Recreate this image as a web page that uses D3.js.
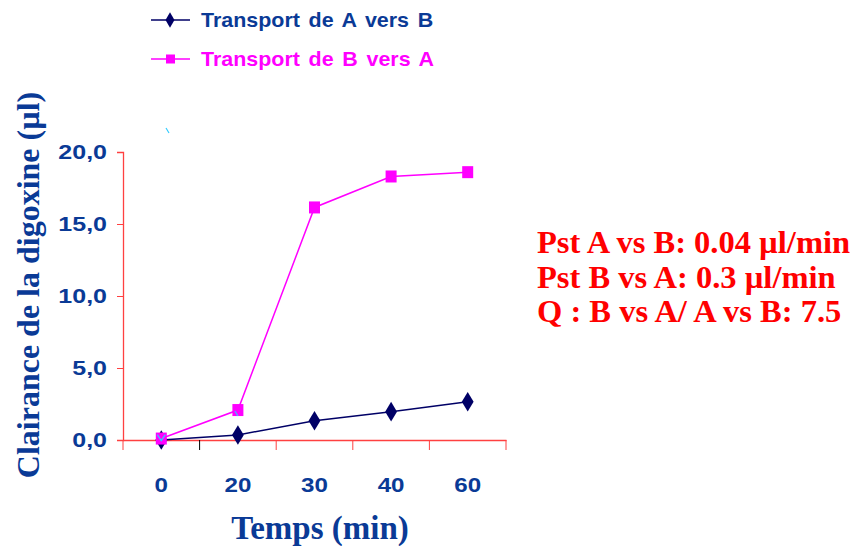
<!DOCTYPE html>
<html><head><meta charset="utf-8">
<script src="https://cdn.jsdelivr.net/npm/d3@7/dist/d3.min.js"></script>
<style>body{margin:0;background:#fff}svg{display:block}</style>
</head><body>
<svg id="c" width="858" height="546"></svg>
<script>
const categories = ["0", "20", "30", "40", "60"];
const seriesAB = [0.0, 0.35, 1.34, 1.97, 2.66];
const seriesBA = [0.1, 2.08, 16.15, 18.3, 18.6];
const yTicks = [0, 5, 10, 15, 20];
const seriesNames = ["Transport de A vers B", "Transport de B vers A"];
const notes = ["Pst A vs B: 0.04 µl/min", "Pst B vs A: 0.3 µl/min", "Q : B vs A/ A vs B: 7.5"];

const svg = d3.select("#c");
const blue = "#0a3a96", navy = "#000066", mag = "#ff00ff", axisRed = "#ff4040";
const sans = "Arial, 'Liberation Sans', sans-serif";
const serif = "'Times New Roman', 'Liberation Serif', serif";
const x = d3.scaleBand().domain(categories).range([123, 506]);
const y = d3.scaleLinear().domain([0, 20]).range([440, 152]);

// y axis
const ya = svg.append("g").attr("transform", "translate(123,0)")
  .call(d3.axisLeft(y).tickValues(yTicks).tickSize(6).tickFormat(d => d3.format(".1f")(d).replace(".", ",")));
ya.select(".domain").attr("stroke", axisRed).attr("stroke-width", 1.3);
ya.selectAll(".tick line").attr("stroke", axisRed);
ya.selectAll(".tick text").attr("fill", blue).attr("font-family", sans)
  .attr("font-weight", "bold").attr("font-size", 20).attr("x", 0)
  .attr("transform", "translate(-16,0) scale(1.25,1)");

// x axis
const xa = svg.append("g").attr("transform", "translate(0,440)")
  .call(d3.axisBottom(x).tickSize(0));
xa.select(".domain").attr("stroke", axisRed).attr("stroke-width", 1.3);
xa.selectAll(".tick text").attr("fill", blue).attr("font-family", sans)
  .attr("font-weight", "bold").attr("font-size", 21).attr("y", 0)
  .attr("transform", "translate(0,37) scale(1.15,1)");
// x tick marks at band boundaries
const bounds = categories.map(c => x(c)).concat([x.range()[1]]);
svg.append("g").selectAll("line").data(bounds).join("line")
  .attr("x1", d => d).attr("x2", d => d).attr("y1", 440).attr("y2", 450)
  .attr("stroke", (d, i) => i === 1 ? "#000" : axisRed);

const cx = c => x(c) + x.bandwidth() / 2;
const line = d3.line().x((d, i) => cx(categories[i])).y(d => y(d));

// B vers A
svg.append("path").datum(seriesBA).attr("d", line).attr("fill", "none").attr("stroke", mag).attr("stroke-width", 1.5);
// A vers B
svg.append("path").datum(seriesAB).attr("d", line).attr("fill", "none").attr("stroke", navy).attr("stroke-width", 1.5);

const diamond = d3.symbol().type(d3.symbolDiamond).size(110);
svg.append("g").selectAll("path").data(seriesAB).join("path")
  .attr("d", diamond).attr("fill", navy)
  .attr("transform", (d, i) => `translate(${cx(categories[i])},${y(d)}) scale(1.05,1)`);
svg.append("g").selectAll("rect").data(seriesBA).join("rect")
  .attr("x", (d, i) => cx(categories[i]) - 5.5).attr("y", d => y(d) - 6)
  .attr("width", 11).attr("height", 12).attr("fill", mag);
// small cyan artifacts
svg.append("path").attr("d", `M${cx("0")-4},${y(0.1)-4}L${cx("0")},${y(0.1)+2}L${cx("0")+4},${y(0.1)-4}`)
  .attr("fill", "none").attr("stroke", "#33ccff").attr("stroke-width", 1.2);
svg.append("path").attr("d", `M${cx("20")-3},${y(2.08)+1}L${cx("20")},${y(2.08)+6}`)
  .attr("fill", "none").attr("stroke", "#33ccff").attr("stroke-width", 1.2);
svg.append("path").attr("d", "M166,128L169,133").attr("stroke", "#33ccff").attr("stroke-width", 1.2);

// legend
const leg = svg.append("g");
const legColors = [navy, mag], legText = [blue, mag];
seriesNames.forEach((n, i) => {
  const ly = 20 + i * 39;
  leg.append("line").attr("x1", 151).attr("x2", 190).attr("y1", ly).attr("y2", ly).attr("stroke", legColors[i]).attr("stroke-width", 1.5);
  if (i === 0) leg.append("path").attr("d", d3.symbol().type(d3.symbolDiamond).size(70)).attr("fill", navy).attr("transform", `translate(170,${ly})`);
  else leg.append("rect").attr("x", 166).attr("y", ly - 4.5).attr("width", 9).attr("height", 9).attr("fill", mag);
  leg.append("text").attr("transform", `translate(201,${ly + 7}) scale(1.1,1)`).text(n).attr("fill", legText[i])
    .attr("font-family", sans).attr("font-weight", "bold").attr("font-size", 19.5).attr("word-spacing", 2.5);
});

// axis titles
svg.append("text").attr("transform", "translate(39,285) rotate(-90)").attr("text-anchor", "middle")
  .attr("font-family", serif).attr("font-weight", "bold").attr("font-size", 32).attr("fill", blue)
  .text("Clairance de la digoxine (µl)");
svg.append("text").attr("x", 320).attr("y", 539).attr("text-anchor", "middle")
  .attr("font-family", serif).attr("font-weight", "bold").attr("font-size", 33).attr("fill", blue)
  .text("Temps (min)");

// notes
svg.append("g").selectAll("text").data(notes).join("text")
  .attr("x", 537).attr("y", (d, i) => 253 + i * 34.5).text(d => d)
  .attr("font-family", serif).attr("font-weight", "bold").attr("font-size", 32.5).attr("fill", "#ff0000");
</script>
</body></html>
